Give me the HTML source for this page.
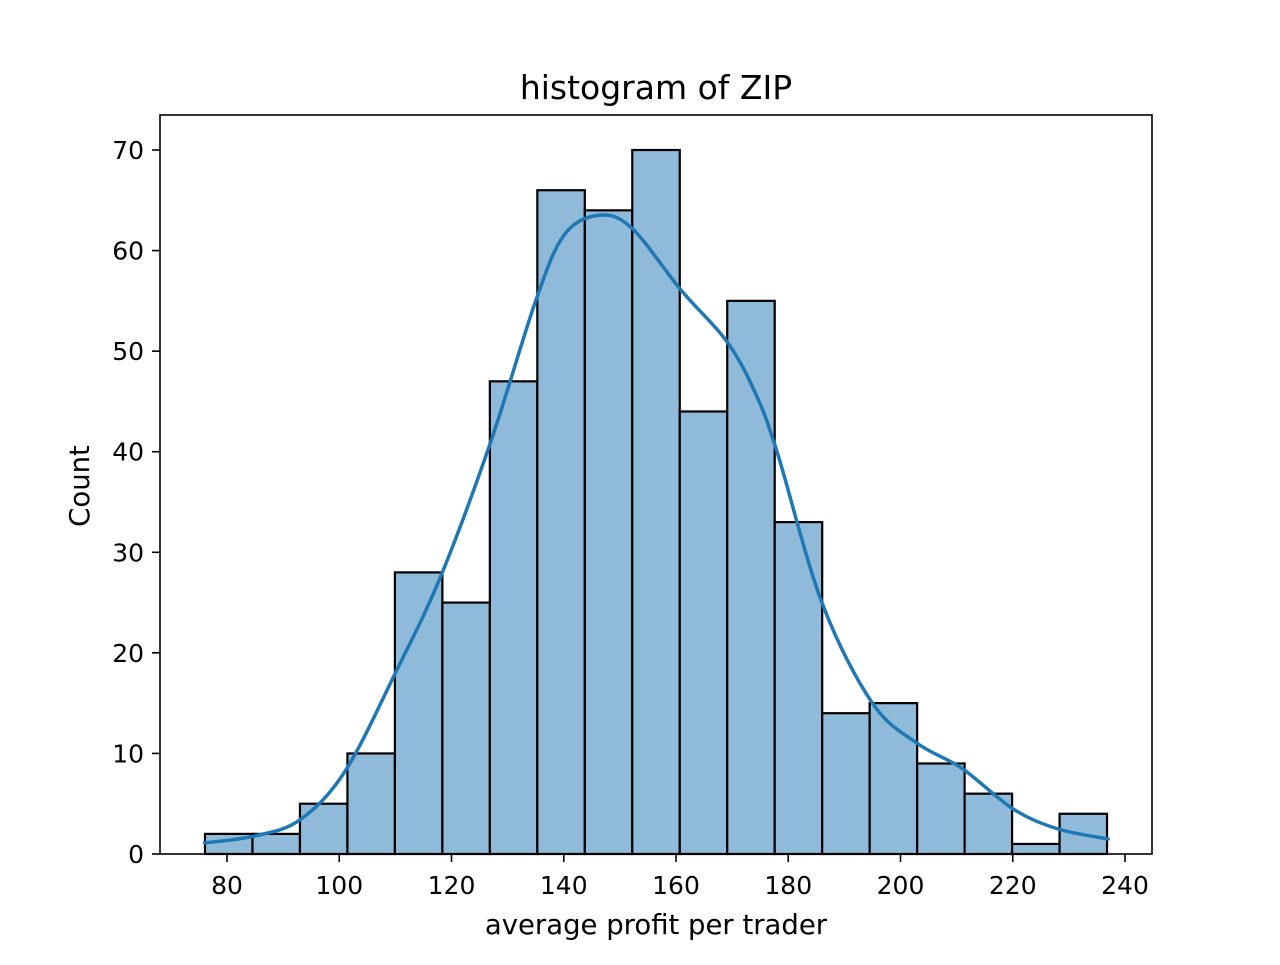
<!DOCTYPE html>
<html><head><meta charset="utf-8"><style>
body{margin:0;background:#fff}
svg text{font-family:"DejaVu Sans","Liberation Sans",sans-serif;fill:#000}
</style></head><body>
<svg id="chart" width="1280" height="960" viewBox="0 0 1280 960" xmlns="http://www.w3.org/2000/svg">
<rect width="1280" height="960" fill="#fff"/>
<g id="bars"></g>
<path id="kde" fill="none" stroke="#1f77b4" stroke-width="3.5" stroke-linecap="round"/>
<rect x="160" y="115" width="992" height="739" fill="none" stroke="#000" stroke-width="1.6"/>
<g id="xticks"></g><g id="yticks"></g>
<text x="656" y="99" font-size="33" text-anchor="middle">histogram of ZIP</text>
<text x="656" y="934" font-size="27.5" text-anchor="middle">average profit per trader</text>
<text transform="translate(89,486) rotate(-90)" font-size="27.5" text-anchor="middle">Count</text>
</svg>
<script>
const binStart = 76.08;
const binEnd = 236.8;
const counts = [2,2,5,10,28,25,47,66,64,70,44,55,33,14,15,9,6,1,4];
const kdeX = [76,85,93,101,110,118,127,135,140,146,152,161,169,174,178,186,195,203,211,220,228,237];
const kdeY = [1.1,1.8,3.4,8.2,18,27.5,41,55,61.5,63.5,62.3,56,51,46,40,25,15,11,8.5,4.5,2.5,1.5];
const xTicks = [80,100,120,140,160,180,200,220,240];
const yTicks = [0,10,20,30,40,50,60,70];
const NS="http://www.w3.org/2000/svg";
const X = v => 227 + (v-80)*898/160;
const Y = v => 854 - v*704/70;
const bars=document.getElementById('bars');
const w=(binEnd-binStart)/counts.length;
counts.forEach((c,i)=>{
  const r=document.createElementNS(NS,'rect');
  
  
  const x0=X(binStart+i*w), x1=X(binStart+(i+1)*w);
  r.setAttribute('x',x0);r.setAttribute('width',x1-x0);
  r.setAttribute('y',Y(c));r.setAttribute('height',Y(0)-Y(c));
  r.setAttribute('fill','#8fbad9');r.setAttribute('stroke','#000');r.setAttribute('stroke-width','2.2');
  bars.appendChild(r);
});
const pts=kdeX.map((x,i)=>[X(x),Y(kdeY[i])]);
let d='M'+pts[0][0]+','+pts[0][1];
for(let i=0;i<pts.length-1;i++){
  const p0=pts[Math.max(0,i-1)],p1=pts[i],p2=pts[i+1],p3=pts[Math.min(pts.length-1,i+2)];
  d+=' C'+(p1[0]+(p2[0]-p0[0])/6)+','+(p1[1]+(p2[1]-p0[1])/6)+' '+(p2[0]-(p3[0]-p1[0])/6)+','+(p2[1]-(p3[1]-p1[1])/6)+' '+p2[0]+','+p2[1];
}
document.getElementById('kde').setAttribute('d',d);
const xt=document.getElementById('xticks');
xTicks.forEach(t=>{
  const l=document.createElementNS(NS,'line');
  
  
  l.setAttribute('x1',X(t));l.setAttribute('x2',X(t));l.setAttribute('y1',854);l.setAttribute('y2',862);l.setAttribute('stroke','#000');l.setAttribute('stroke-width','1.6');
  xt.appendChild(l);
  const s=document.createElementNS(NS,'text');
  
  
  s.setAttribute('x',X(t));s.setAttribute('y',894);s.setAttribute('font-size','25');s.setAttribute('text-anchor','middle');
  s.textContent=t;xt.appendChild(s);
});
const yt=document.getElementById('yticks');
yTicks.forEach(t=>{
  const l=document.createElementNS(NS,'line');
  
  
  l.setAttribute('x1',152);l.setAttribute('x2',160);l.setAttribute('y1',Y(t));l.setAttribute('y2',Y(t));l.setAttribute('stroke','#000');l.setAttribute('stroke-width','1.6');
  yt.appendChild(l);
  const s=document.createElementNS(NS,'text');
  
  
  s.setAttribute('x',144);s.setAttribute('y',Y(t)+9);s.setAttribute('font-size','25');s.setAttribute('text-anchor','end');
  s.textContent=t;yt.appendChild(s);
});
</script>
</body></html>
